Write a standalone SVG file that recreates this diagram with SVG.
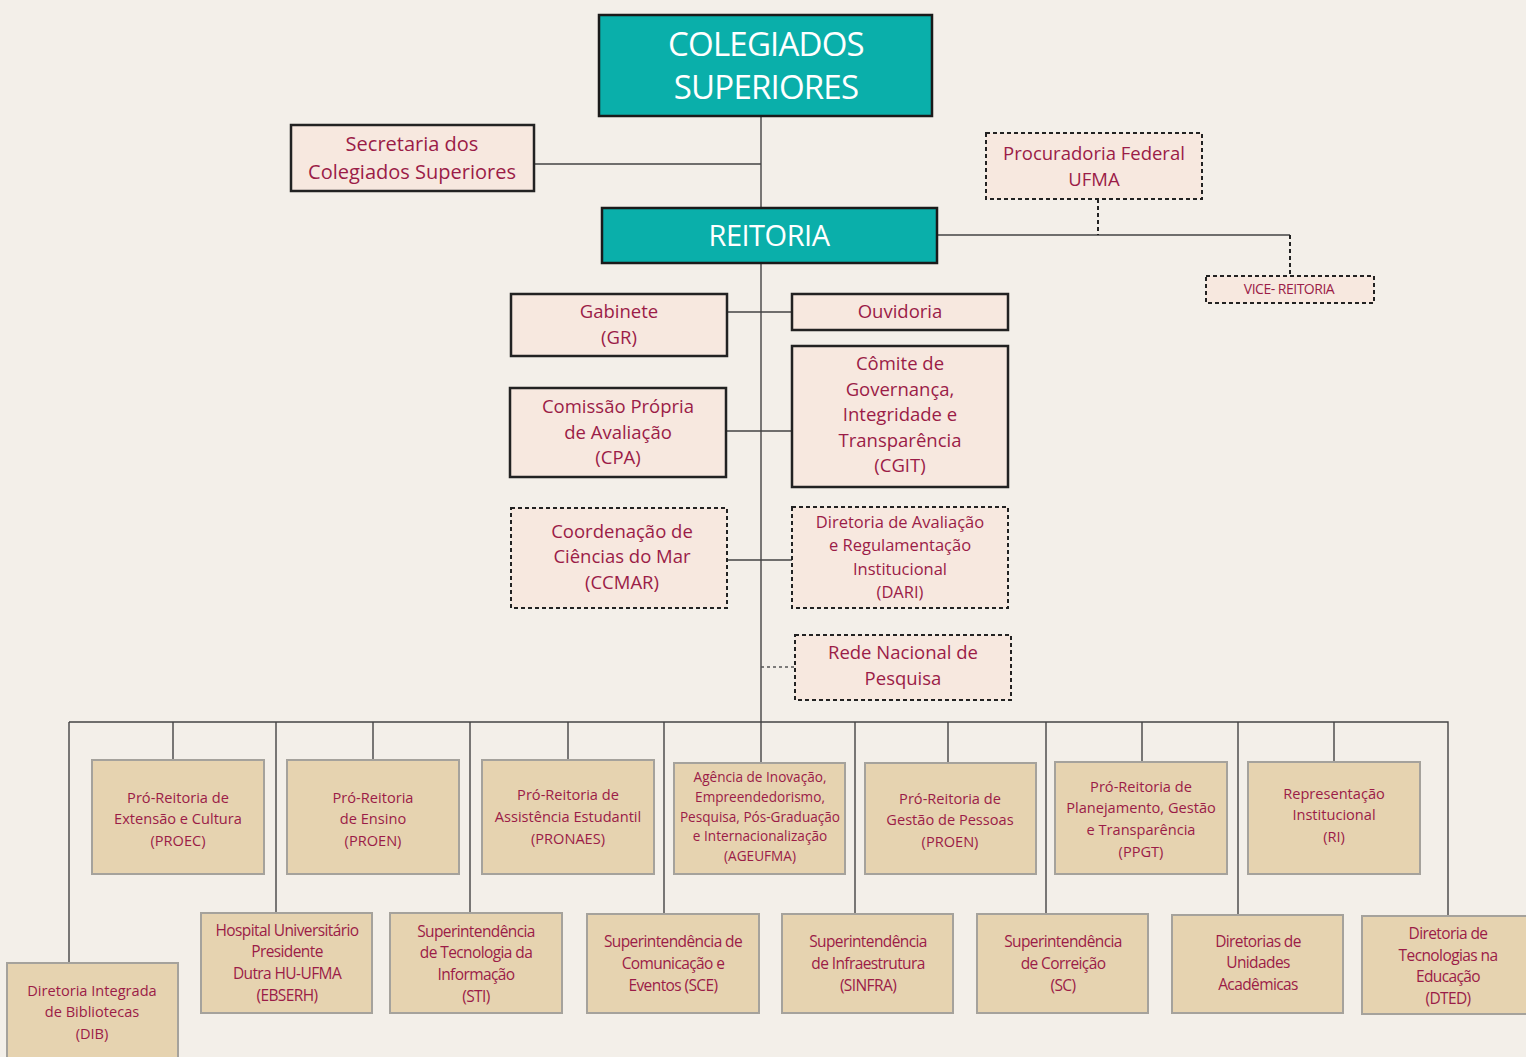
<svg xmlns="http://www.w3.org/2000/svg" width="1526" height="1057" viewBox="0 0 1526 1057">
<style>
.bg{fill:#f3efe9}
.teal{fill:#0aafaa;stroke:#1a1a1a;stroke-width:2.5}
.pk{fill:#f7e8df;stroke:#222;stroke-width:2.5}
.pkd{fill:#f7e8df;stroke:#222;stroke-width:2;stroke-dasharray:4 3}
.tan{fill:#e6d3b0;stroke:#a5a29c;stroke-width:2}
.ln{stroke:#444;stroke-width:1.4;fill:none}
.lnd{stroke:#222;stroke-width:2;fill:none;stroke-dasharray:4 3}
.lnd2{stroke:#555;stroke-width:1.4;fill:none;stroke-dasharray:3 3}
text{font-family:"Open Sans","Noto Sans","Liberation Sans",sans-serif;text-anchor:middle;fill:#9b1c47}
.w{fill:#fff}
.t19{font-size:18.5px}
.t17{font-size:16.5px}
.t15{font-size:14.6px}
.t14{font-size:13.6px}
.c15{font-size:15.5px;letter-spacing:-0.6px}
</style>
<rect class="bg" x="0" y="0" width="1526" height="1057"/>
<g id="connectors">
<path class="ln" d="M761 116V722M534 164H761M937 235H1290M727 312H792M726 431H792M727 560H792"/>
<path class="lnd" d="M1098 199V235M1290 235V276"/>
<path class="lnd2" d="M761 667H795"/>
<path class="ln" d="M69 722H1448V916M69 722V963M173 722V760M276 722V913M373 722V760M470 722V913M568 722V760M664 722V914M761 722V763M855 722V914M948 722V763M1046 722V914M1142 722V762M1238 722V915M1334 722V762"/>
</g>
<g id="colegiados"><rect class="teal" x="599" y="15" width="333" height="101"/><text class="w" x="766" y="56" font-size="33" letter-spacing="-0.8">COLEGIADOS</text><text class="w" x="766" y="99" font-size="33" letter-spacing="-0.8">SUPERIORES</text></g>
<g id="secretaria"><rect class="pk" x="291" y="125" width="243" height="66"/><text x="412" y="151" style="font-size:20px">Secretaria dos</text><text x="412" y="179" style="font-size:20px">Colegiados Superiores</text></g>
<g id="reitoria"><rect class="teal" x="602" y="208" width="335" height="55"/><text class="w" x="769" y="246" font-size="29" letter-spacing="-0.5">REITORIA</text></g>
<g id="procuradoria"><rect class="pkd" x="986" y="133" width="216" height="66"/><text class="t19" x="1094" y="160">Procuradoria Federal</text><text class="t19" x="1094" y="186">UFMA</text></g>
<g id="vice-reitoria"><rect class="pkd" x="1206" y="276" width="168" height="27"/><text x="1289" y="294" style="font-size:14px;letter-spacing:-0.5px">VICE- REITORIA</text></g>
<g id="gabinete"><rect class="pk" x="511" y="294" width="216" height="62"/><text class="t19" x="619" y="318">Gabinete</text><text class="t19" x="619" y="344">(GR)</text></g>
<g id="ouvidoria"><rect class="pk" x="792" y="294" width="216" height="36"/><text class="t19" x="900" y="318">Ouvidoria</text></g>
<g id="cpa"><rect class="pk" x="510" y="388" width="216" height="89"/><text class="t19" x="618" y="413">Comissão Própria</text><text class="t19" x="618" y="439">de Avaliação</text><text class="t19" x="618" y="464">(CPA)</text></g>
<g id="cgit"><rect class="pk" x="792" y="346" width="216" height="141"/><text class="t19" x="900" y="370">Cômite de</text><text class="t19" x="900" y="396">Governança,</text><text class="t19" x="900" y="421">Integridade e</text><text class="t19" x="900" y="447">Transparência</text><text class="t19" x="900" y="472">(CGIT)</text></g>
<g id="ccmar"><rect class="pkd" x="511" y="508" width="216" height="100"/><text class="t19" x="622" y="538">Coordenação de</text><text class="t19" x="622" y="563">Ciências do Mar</text><text class="t19" x="622" y="589">(CCMAR)</text></g>
<g id="dari"><rect class="pkd" x="792" y="507" width="216" height="101"/><text class="t17" x="900" y="528">Diretoria de Avaliação</text><text class="t17" x="900" y="551">e Regulamentação</text><text class="t17" x="900" y="575">Institucional</text><text class="t17" x="900" y="598">(DARI)</text></g>
<g id="rede"><rect class="pkd" x="795" y="635" width="216" height="65"/><text class="t19" x="903" y="659">Rede Nacional de</text><text class="t19" x="903" y="685">Pesquisa</text></g>
<g id="proec"><rect class="tan" x="92" y="760" width="172" height="114"/><text class="t15" x="178" y="803">Pró-Reitoria de</text><text class="t15" x="178" y="824">Extensão e Cultura</text><text class="t15" x="178" y="846">(PROEC)</text></g>
<g id="proen"><rect class="tan" x="287" y="760" width="172" height="114"/><text class="t15" x="373" y="803">Pró-Reitoria</text><text class="t15" x="373" y="824">de Ensino</text><text class="t15" x="373" y="846">(PROEN)</text></g>
<g id="pronaes"><rect class="tan" x="482" y="760" width="172" height="114"/><text class="t15" x="568" y="800">Pró-Reitoria de</text><text class="t15" x="568" y="822">Assistência Estudantil</text><text class="t15" x="568" y="844">(PRONAES)</text></g>
<g id="ageufma"><rect class="tan" x="674" y="763" width="171" height="111"/><text class="t14" x="760" y="782">Agência de Inovação,</text><text class="t14" x="760" y="802">Empreendedorismo,</text><text class="t14" x="760" y="822">Pesquisa, Pós-Graduação</text><text class="t14" x="760" y="841">e Internacionalização</text><text class="t14" x="760" y="861">(AGEUFMA)</text></g>
<g id="progep"><rect class="tan" x="865" y="763" width="171" height="111"/><text class="t15" x="950" y="804">Pró-Reitoria de</text><text class="t15" x="950" y="825">Gestão de Pessoas</text><text class="t15" x="950" y="847">(PROEN)</text></g>
<g id="ppgt"><rect class="tan" x="1055" y="762" width="172" height="112"/><text class="t15" x="1141" y="792">Pró-Reitoria de</text><text class="t15" x="1141" y="813">Planejamento, Gestão</text><text class="t15" x="1141" y="835">e Transparência</text><text class="t15" x="1141" y="857">(PPGT)</text></g>
<g id="ri"><rect class="tan" x="1248" y="762" width="172" height="112"/><text class="t15" x="1334" y="799">Representação</text><text class="t15" x="1334" y="820">Institucional</text><text class="t15" x="1334" y="842">(RI)</text></g>
<g id="dib"><rect class="tan" x="7" y="963" width="171" height="100"/><text class="t15" x="92" y="996">Diretoria Integrada</text><text class="t15" x="92" y="1017">de Bibliotecas</text><text class="t15" x="92" y="1039">(DIB)</text></g>
<g id="hu"><rect class="tan" x="201" y="913" width="171" height="100"/><text class="c15" x="287" y="936">Hospital Universitário</text><text class="c15" x="287" y="957">Presidente</text><text class="c15" x="287" y="979">Dutra HU-UFMA</text><text class="c15" x="287" y="1001">(EBSERH)</text></g>
<g id="sti"><rect class="tan" x="390" y="913" width="172" height="100"/><text class="c15" x="476" y="937">Superintendência</text><text class="c15" x="476" y="958">de Tecnologia da</text><text class="c15" x="476" y="980">Informação</text><text class="c15" x="476" y="1002">(STI)</text></g>
<g id="sce"><rect class="tan" x="587" y="914" width="172" height="99"/><text class="c15" x="673" y="947">Superintendência de</text><text class="c15" x="673" y="969">Comunicação e</text><text class="c15" x="673" y="991">Eventos (SCE)</text></g>
<g id="sinfra"><rect class="tan" x="782" y="914" width="171" height="99"/><text class="c15" x="868" y="947">Superintendência</text><text class="c15" x="868" y="969">de Infraestrutura</text><text class="c15" x="868" y="991">(SINFRA)</text></g>
<g id="sc"><rect class="tan" x="977" y="914" width="171" height="99"/><text class="c15" x="1063" y="947">Superintendência</text><text class="c15" x="1063" y="969">de Correição</text><text class="c15" x="1063" y="991">(SC)</text></g>
<g id="unidades"><rect class="tan" x="1172" y="915" width="171" height="98"/><text class="c15" x="1258" y="947">Diretorias de</text><text class="c15" x="1258" y="968">Unidades</text><text class="c15" x="1258" y="990">Acadêmicas</text></g>
<g id="dted"><rect class="tan" x="1362" y="916" width="172" height="98"/><text class="c15" x="1448" y="939">Diretoria de</text><text class="c15" x="1448" y="961">Tecnologias na</text><text class="c15" x="1448" y="982">Educação</text><text class="c15" x="1448" y="1004">(DTED)</text></g>
</svg>
